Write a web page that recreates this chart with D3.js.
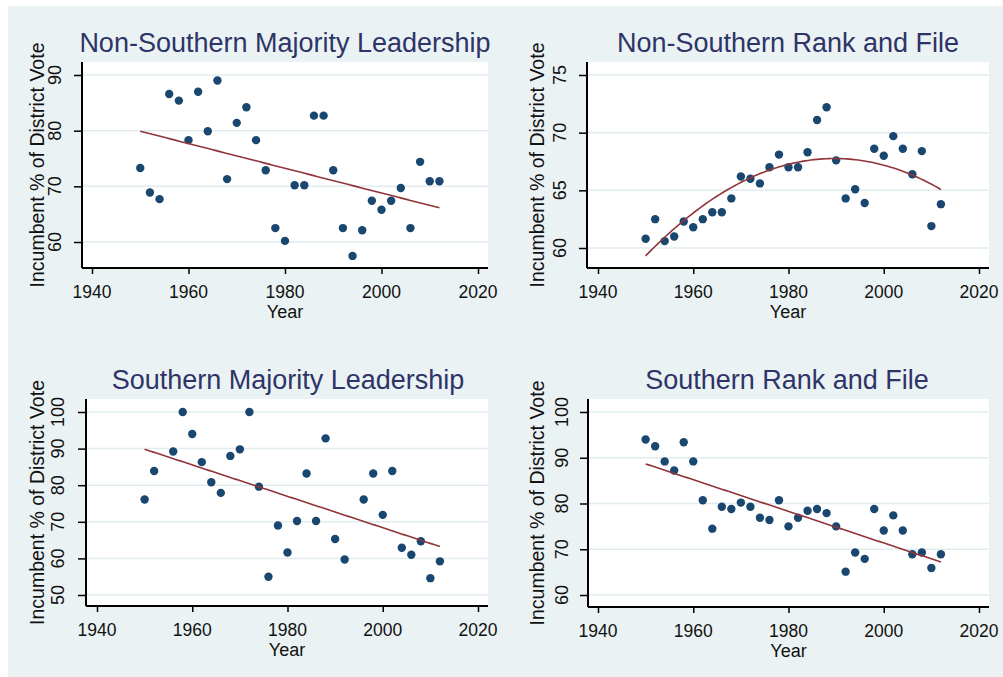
<!DOCTYPE html>
<html>
<head>
<meta charset="utf-8">
<script src="https://cdn.jsdelivr.net/npm/d3@7"></script>
<style>
    body { margin: 0; background: #fff; }
    svg { display: block; font-family: "Liberation Sans", Arial, sans-serif; }
</style>
</head>
<body>
<svg id="chart" width="1003" height="677"></svg>
<script>
"use strict";

// ------------------------- Data -------------------------

const electionYears = [1950, 1952, 1954, 1956, 1958, 1960, 1962, 1964, 1966, 1968, 1970,
    1972, 1974, 1976, 1978, 1980, 1982, 1984, 1986, 1988, 1990, 1992, 1994, 1996,
    1998, 2000, 2002, 2004, 2006, 2008, 2010, 2012];

const southLeadYears = [1950, 1952, 1956, 1958, 1960, 1962, 1964, 1966, 1968, 1970,
    1972, 1974, 1976, 1978, 1980, 1982, 1984, 1986, 1988, 1990, 1992, 1996,
    1998, 2000, 2002, 2004, 2006, 2008, 2010, 2012];

const nonSouthLeadVote = [73.3, 68.9, 67.7, 86.6, 85.4, 78.3, 87.0, 79.9, 89.0, 71.3, 81.4,
    84.2, 78.3, 72.9, 62.5, 60.2, 70.2, 70.2, 82.7, 82.7, 72.9, 62.5, 57.5, 62.1,
    67.4, 65.8, 67.4, 69.7, 62.5, 74.4, 70.9, 70.9];

const nonSouthRankVote = [60.8, 62.5, 60.6, 61.0, 62.3, 61.8, 62.5, 63.1, 63.1, 64.3, 66.2,
    66.0, 65.6, 67.0, 68.1, 67.0, 67.0, 68.3, 71.1, 72.2, 67.6, 64.3, 65.1, 63.9,
    68.6, 68.0, 69.7, 68.6, 66.4, 68.4, 61.9, 63.8];

const southLeadVote = [76.1, 83.9, 89.2, 100.0, 94.0, 86.3, 80.8, 77.9, 88.0, 89.8,
    100.0, 79.6, 55.0, 69.0, 61.6, 70.2, 83.2, 70.2, 92.8, 65.3, 59.7, 76.1,
    83.2, 71.9, 83.9, 62.9, 61.0, 64.7, 54.6, 59.2];

const southRankVote = [94.0, 92.5, 89.2, 87.2, 93.4, 89.2, 80.7, 74.5, 79.3, 78.8, 80.2,
    79.3, 76.9, 76.4, 80.7, 75.0, 76.9, 78.4, 78.8, 77.9, 75.0, 65.1, 69.3, 67.9,
    78.8, 74.1, 77.4, 74.1, 68.9, 69.3, 65.9, 68.9];

const yearTicks = [1940, 1960, 1980, 2000, 2020];
const nonSouthLeadTicks = [60, 70, 80, 90];
const nonSouthRankTicks = [60, 65, 70, 75];
const southLeadTicks = [50, 60, 70, 80, 90, 100];
const southRankTicks = [60, 70, 80, 90, 100];

const panelTitles = ['Non-Southern Majority Leadership', 'Non-Southern Rank and File',
    'Southern Majority Leadership', 'Southern Rank and File'];

// ------------------------- Layout -------------------------

const COLORS = {
    background: '#eaf2f3',
    grid: '#e2ecef',
    marker: '#1a476f',
    fit: '#90353b',
    title: '#2e3468'
};

// box: plot region; xr/yr: pixel range of first/last tick
const panels = [
    { title: panelTitles[0], years: electionYears, votes: nonSouthLeadVote, ticks: nonSouthLeadTicks,
      fit: 1, box: [82, 62, 488, 268], xr: [92, 478], yr: [242, 75], titleX: 285, titleY: 43, yTitleX: 37, yLabelX: 55 },
    { title: panelTitles[1], years: electionYears, votes: nonSouthRankVote, ticks: nonSouthRankTicks,
      fit: 2, box: [587, 62, 989, 268], xr: [598, 979], yr: [248, 75], titleX: 788, titleY: 43, yTitleX: 537, yLabelX: 560 },
    { title: panelTitles[2], years: southLeadYears, votes: southLeadVote, ticks: southLeadTicks,
      fit: 1, box: [86, 399, 488, 606], xr: [97, 478], yr: [595, 412], titleX: 288, titleY: 380, yTitleX: 37, yLabelX: 58 },
    { title: panelTitles[3], years: electionYears, votes: southRankVote, ticks: southRankTicks,
      fit: 1, box: [588, 399, 989, 607], xr: [598, 979], yr: [595, 412], titleX: 787, titleY: 380, yTitleX: 537, yLabelX: 562 }
];

const svg = d3.select('#chart');

svg.append('rect')
    .attr('x', 8).attr('y', 6)
    .attr('width', 995).attr('height', 671)
    .attr('fill', COLORS.background);

panels.forEach(panel => renderPanel(svg, panel));


// ------------------------- Rendering Helpers -------------------------

function renderPanel(root, panel) {
    const [left, top, right, bottom] = panel.box;
    const first = panel.ticks[0];
    const last = panel.ticks[panel.ticks.length - 1];

    const x = d3.scaleLinear().domain([1940, 2020]).range(panel.xr);
    const y = d3.scaleLinear().domain([first, last]).range(panel.yr);

    const g = root.append('g');

    g.append('rect')
        .attr('x', left).attr('y', top)
        .attr('width', right - left).attr('height', bottom - top)
        .attr('fill', '#fff');

    g.selectAll('.grid')
        .data(panel.ticks)
        .enter()
        .append('line')
        .attr('x1', left).attr('x2', right)
        .attr('y1', d => y(d)).attr('y2', d => y(d))
        .attr('stroke', COLORS.grid)
        .attr('stroke-width', 1.5);

    // y axis
    const yAxis = g.append('g')
        .attr('transform', `translate(${left},0)`)
        .call(d3.axisLeft(y).tickValues(panel.ticks).tickSize(8).tickFormat(''));
    yAxis.select('.domain').attr('d', `M0,${top}V${bottom}`);
    styleAxis(yAxis);

    g.selectAll('.ylabel')
        .data(panel.ticks)
        .enter()
        .append('text')
        .attr('transform', d => `translate(${panel.yLabelX},${y(d)}) rotate(-90)`)
        .attr('text-anchor', 'middle')
        .attr('dy', '0.35em')
        .attr('font-size', 18)
        .attr('fill', '#111')
        .text(d => d);

    // x axis
    const xAxis = g.append('g')
        .attr('transform', `translate(0,${bottom})`)
        .call(d3.axisBottom(x).tickValues(yearTicks).tickSize(6).tickFormat(''));
    xAxis.select('.domain').attr('d', `M${left},0H${right}`);
    styleAxis(xAxis);

    g.selectAll('.xlabel')
        .data(yearTicks)
        .enter()
        .append('text')
        .attr('x', d => x(d))
        .attr('y', bottom + 30)
        .attr('text-anchor', 'middle')
        .attr('font-size', 17.5)
        .attr('fill', '#111')
        .text(d => d);

    g.append('text')
        .attr('x', (left + right) / 2)
        .attr('y', bottom + 50)
        .attr('text-anchor', 'middle')
        .attr('font-size', 18)
        .attr('fill', '#111')
        .text('Year');

    g.append('text')
        .attr('transform', `translate(${panel.yTitleX},${(top + bottom) / 2}) rotate(-90)`)
        .attr('text-anchor', 'middle')
        .attr('dy', '0.35em')
        .attr('font-size', 19.5)
        .attr('fill', '#111')
        .text('Incumbent % of District Vote');

    g.append('text')
        .attr('x', panel.titleX)
        .attr('y', panel.titleY)
        .attr('text-anchor', 'middle')
        .attr('dy', '0.35em')
        .attr('font-size', 27)
        .attr('fill', COLORS.title)
        .text(panel.title);

    // points
    const points = panel.years.map((yr, i) => [yr, panel.votes[i]]);

    g.selectAll('.point')
        .data(points)
        .enter()
        .append('circle')
        .attr('cx', d => x(d[0]))
        .attr('cy', d => y(d[1]))
        .attr('r', 4.2)
        .attr('fill', COLORS.marker);

    // fitted line
    const coef = polyFit(panel.years, panel.votes, panel.fit);
    const x0 = d3.min(panel.years);
    const x1 = d3.max(panel.years);
    const curve = d3.range(0, 101).map(k => {
        const t = x0 + (x1 - x0) * k / 100;
        return [t, coef.reduce((s, c, p) => s + c * Math.pow(t - 1980, p), 0)];
    });

    g.append('path')
        .datum(curve)
        .attr('fill', 'none')
        .attr('stroke', COLORS.fit)
        .attr('stroke-width', 1.6)
        .attr('d', d3.line().x(d => x(d[0])).y(d => y(d[1])));
}

function styleAxis(axis) {
    axis.select('.domain').attr('stroke', '#000').attr('stroke-width', 2);
    axis.selectAll('.tick line').attr('stroke', '#000').attr('stroke-width', 1.5);
}

// least-squares polynomial fit, centred on 1980
function polyFit(xs, ys, degree) {
    const n = degree + 1;
    const A = d3.range(n).map(() => new Array(n + 1).fill(0));
    xs.forEach((xv, i) => {
        const t = xv - 1980;
        for (let r = 0; r < n; r++) {
            for (let c = 0; c < n; c++) A[r][c] += Math.pow(t, r + c);
            A[r][n] += ys[i] * Math.pow(t, r);
        }
    });
    for (let i = 0; i < n; i++) {
        for (let k = i + 1; k < n; k++) {
            const f = A[k][i] / A[i][i];
            for (let j = i; j <= n; j++) A[k][j] -= f * A[i][j];
        }
    }
    const coef = new Array(n).fill(0);
    for (let i = n - 1; i >= 0; i--) {
        let s = A[i][n];
        for (let j = i + 1; j < n; j++) s -= A[i][j] * coef[j];
        coef[i] = s / A[i][i];
    }
    return coef;
}
</script>
</body>
</html>
